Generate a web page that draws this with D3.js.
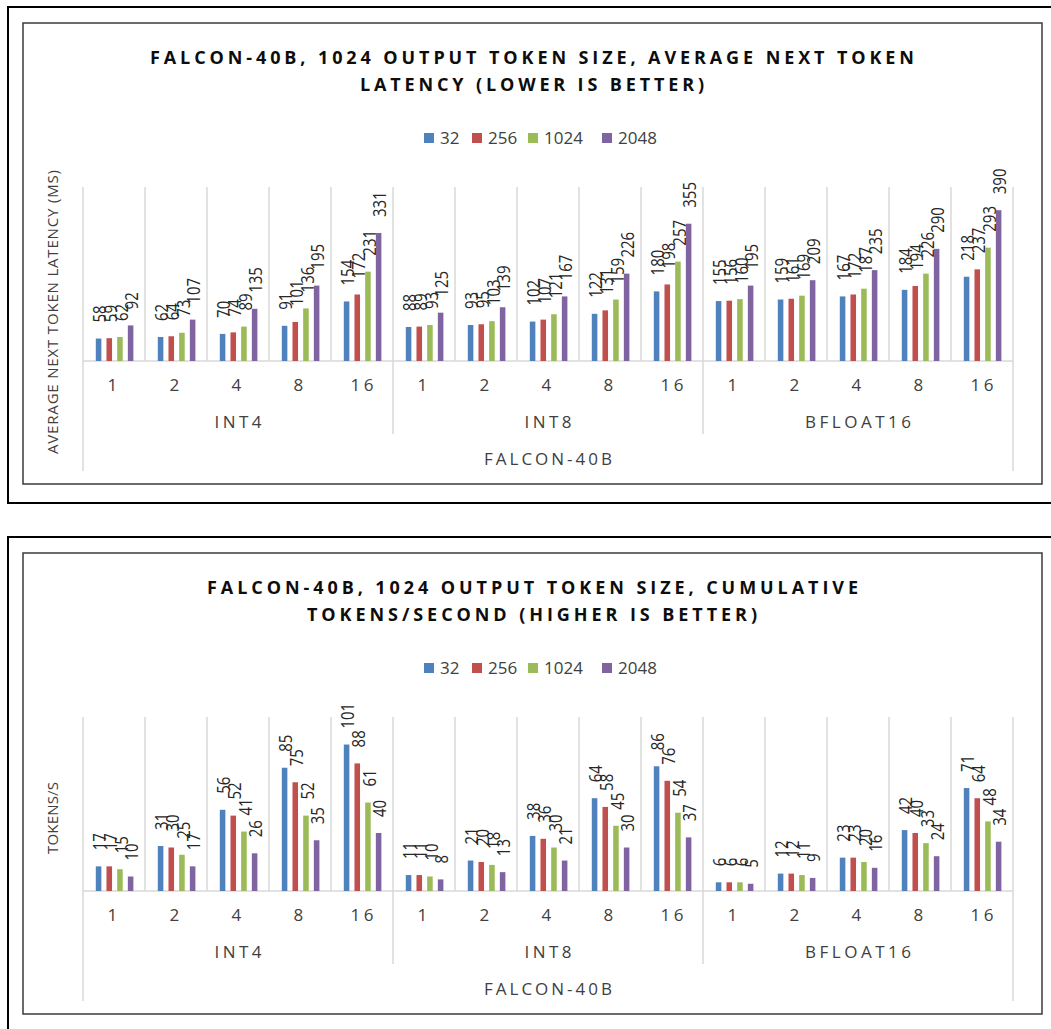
<!DOCTYPE html>
<html><head><meta charset="utf-8">
<script src="https://cdn.jsdelivr.net/npm/d3@7"></script>
<style>body{margin:0;background:#fff}</style></head>
<body>
<svg id="c" width="1051" height="1029"></svg>
<script>
// ---------- DATA ----------
const groups = ["INT4", "INT8", "BFLOAT16"];
const categories = ["1", "2", "4", "8", "16"];
const series = ["32", "256", "1024", "2048"];
const outerLabel = "FALCON-40B";

const latency32   = [58, 62, 70, 91, 154,   88, 93, 102, 122, 180,   155, 159, 167, 184, 218];
const latency256  = [59, 64, 74, 101, 172,  89, 95, 107, 131, 198,   156, 161, 172, 194, 237];
const latency1024 = [62, 73, 89, 136, 231,  93, 103, 121, 159, 257,  160, 169, 187, 226, 293];
const latency2048 = [92, 107, 135, 195, 331, 125, 139, 167, 226, 355, 195, 209, 235, 290, 390];

const tps32   = [17, 31, 56, 85, 101,  11, 21, 38, 64, 86,  6, 12, 23, 42, 71];
const tps256  = [17, 30, 52, 75, 88,   11, 20, 36, 58, 76,  6, 12, 23, 40, 64];
const tps1024 = [15, 25, 41, 52, 61,   10, 18, 30, 45, 54,  6, 11, 20, 33, 48];
const tps2048 = [10, 17, 26, 35, 40,   8, 13, 21, 30, 37,   5, 9, 16, 24, 34];

const latencyTitle = ["FALCON-40B, 1024 OUTPUT TOKEN SIZE, AVERAGE NEXT TOKEN", "LATENCY (LOWER IS BETTER)"];
const tpsTitle = ["FALCON-40B, 1024 OUTPUT TOKEN SIZE, CUMULATIVE", "TOKENS/SECOND (HIGHER IS BETTER)"];
const latencyAxisTitle = "AVERAGE NEXT TOKEN LATENCY (MS)";
const tpsAxisTitle = "TOKENS/S";

// ---------- STYLE / LAYOUT ----------
const colors = ["#4F81BD", "#C0504D", "#9BBB59", "#8064A2"];
const FONT = "'Open Sans', 'Noto Sans', sans-serif";
const TXT = "#404040";
const GRID = "#D9D9D9";
const plotL = 83, plotR = 1013, plotT = 187, plotB = 361;
const legendX = [424, 472, 528, 602];

const svg = d3.select("#c");

function drawChart(off, cfg) {
  const g = svg.append("g").attr("transform", `translate(0,${off})`);
  g.append("rect").attr("x", 8).attr("y", 7).attr("width", 1060).attr("height", 496)
    .attr("fill", "#fff").attr("stroke", "#000").attr("stroke-width", 2);
  g.append("rect").attr("x", 23).attr("y", 23).attr("width", 1019).attr("height", 461)
    .attr("fill", "#fff").attr("stroke", "#3a3a3a").attr("stroke-width", 1.5);

  // title
  cfg.title.forEach((t, i) => {
    g.append("text").attr("x", cfg.titleX[i]).attr("y", [58, 84.5][i]).attr("dy", "0.35em")
      .attr("textLength", cfg.titleW[i]).attr("lengthAdjust", "spacing")
      .attr("font-family", FONT).attr("font-weight", 700).attr("font-size", 18)
      .attr("fill", "#0d0d0d").text(t);
  });

  // legend
  series.forEach((s, i) => {
    g.append("rect").attr("x", legendX[i]).attr("y", 133).attr("width", 10).attr("height", 10).attr("fill", colors[i]);
    g.append("text").attr("x", legendX[i] + 16).attr("y", 138).attr("dy", "0.35em")
      .attr("font-family", FONT).attr("font-size", 17).attr("fill", TXT).text(s);
  });

  // y-axis title
  g.append("text").attr("transform", `translate(52.5,${cfg.axisTitleY}) rotate(-90)`)
    .attr("text-anchor", "middle").attr("dy", "0.35em")
    .attr("textLength", cfg.axisTitleW).attr("lengthAdjust", "spacing")
    .attr("font-family", FONT).attr("font-size", 15).attr("fill", TXT).text(cfg.axisTitle);

  const rows = [];
  groups.forEach((gr, gi) => categories.forEach((c, ci) => rows.push({ gi, ci, idx: gi * categories.length + ci })));

  const x0 = d3.scaleBand().domain(rows.map(r => r.idx)).range([plotL, plotR]).padding(0);
  const x1 = d3.scaleBand().domain(series).range([12.8, 50.4]).paddingInner(0.48);
  const y = d3.scaleLinear().domain(cfg.domain).range([plotB, plotT]);

  // vertical gridlines
  d3.range(rows.length + 1).forEach(k => {
    const xx = plotL + k * x0.step();
    let bottom = plotB;
    if (k === 0 || k === rows.length) bottom = plotB + 110;
    else if (k % categories.length === 0) bottom = plotB + 73;
    g.append("line").attr("x1", xx).attr("x2", xx).attr("y1", plotT).attr("y2", bottom)
      .attr("stroke", GRID).attr("stroke-width", 1.5);
  });
  g.append("line").attr("x1", plotL).attr("x2", plotR).attr("y1", plotB).attr("y2", plotB)
    .attr("stroke", GRID).attr("stroke-width", 1.5);

  // bars
  cfg.values.forEach((vals, si) => {
    const s = series[si];
    g.append("g").selectAll("rect").data(rows).join("rect")
      .attr("x", r => x0(r.idx) + x1(s)).attr("width", x1.bandwidth())
      .attr("y", r => y(vals[r.idx])).attr("height", r => plotB - y(vals[r.idx]))
      .attr("fill", colors[si]);
    g.append("g").selectAll("text").data(rows).join("text")
      .attr("transform", r => `translate(${x0(r.idx) + x1(s) + x1.bandwidth() / 2 + 1.5},${y(vals[r.idx]) - 16}) rotate(-90) scale(1,1.2)`)
      .attr("dy", "0.35em").attr("font-family", FONT).attr("font-size", 15).attr("fill", "#262626")
      .text(r => vals[r.idx]);
  });

  // category labels
  g.append("g").selectAll("text").data(rows).join("text")
    .attr("x", r => x0(r.idx) + x0.bandwidth() / 2 + (categories[r.ci].length > 1 ? 1.75 : 0))
    .attr("y", plotB + 24).attr("dy", "0.35em").attr("text-anchor", "middle")
    .attr("letter-spacing", 3.5).attr("font-family", FONT).attr("font-size", 17).attr("fill", TXT)
    .text(r => categories[r.ci]);

  // group labels
  groups.forEach((gr, gi) => {
    const gx = plotL + (gi + 0.5) * categories.length * x0.step();
    g.append("text").attr("x", gx + 1.75).attr("y", plotB + 61).attr("dy", "0.35em").attr("text-anchor", "middle")
      .attr("letter-spacing", 3.5).attr("font-family", FONT).attr("font-size", 17).attr("fill", TXT).text(gr);
  });
  g.append("text").attr("x", (plotL + plotR) / 2 + 1.5).attr("y", plotB + 98).attr("dy", "0.35em").attr("text-anchor", "middle")
    .attr("letter-spacing", 3).attr("font-family", FONT).attr("font-size", 17).attr("fill", TXT).text(outerLabel);
}

drawChart(0, {
  title: latencyTitle, titleX: [150, 360], titleW: [764, 344],
  axisTitle: latencyAxisTitle, axisTitleY: 312, axisTitleW: 284,
  domain: [0, 450],
  values: [latency32, latency256, latency1024, latency2048]
});
drawChart(530, {
  title: tpsTitle, titleX: [207, 307], titleW: [651, 450],
  axisTitle: tpsAxisTitle, axisTitleY: 288, axisTitleW: 72,
  domain: [0, 120],
  values: [tps32, tps256, tps1024, tps2048]
});
</script>
</body></html>
